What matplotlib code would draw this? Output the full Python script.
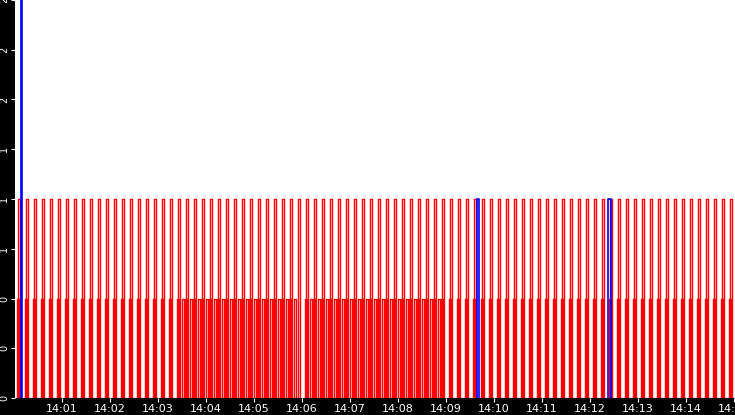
import matplotlib
matplotlib.use("Agg")
import matplotlib.pyplot as plt
import matplotlib.dates as mdates
from matplotlib.ticker import FuncFormatter, MultipleLocator
import datetime as dt

# pulse start times (seconds after 14:00:00) and levels
upper_starts = [5,15,25,35,45,55,65,75,85,95,105,115,125,135,145,155,165,175,185,195,
                205,215,225,235,245,255,265,275,285,295,305,315,325,335,345,355,365,375,385,395,
                405,415,425,435,445,455,465,475,485,495,505,515,525,535,545,555,565,575,585,595,
                605,615,625,635,645,655,665,675,685,695,705,715,725,735,745,755,765,775,785,795,
                805,815,825,835,845,855,865,875,885,895]
upper_level = 1.0
lower_starts = [4,14,24,34,44,54,64,74,84,94,104,114,124,134,144,154,164,174,184,194,
                204,210,214,220,224,230,234,240,244,250,254,260,264,270,274,280,284,290,294,
                300,304,310,314,320,324,330,334,340,344,350,
                364,370,374,380,384,390,394,400,404,410,414,420,424,430,434,440,444,450,454,460,464,470,474,480,484,490,494,500,504,510,514,520,524,530,534,
                544,554,564,574,584,594,604,614,624,634,644,654,664,674,684,694,704,714,724,734,744,754,764,774,784,794,
                804,814,824,834,844,854,864,874,884,894]
lower_level = 0.5
pulse_width = 2.5
blue_spikes = [(9, 2.0, 1.0), (579, 1.0, 2.5), (743, 1.0, 3.0)]

t0 = dt.datetime(2024, 1, 1, 14, 0, 0)
def T(s):
    return t0 + dt.timedelta(seconds=s)

fig = plt.figure(figsize=(7.35, 4.15), dpi=100, facecolor="black")
ax = fig.add_axes([15/735, 17/415, 720/735, 398/415])
ax.set_facecolor("white")

def pulse(s, h, w, color, lw=1.0):
    ax.plot([T(s), T(s), T(s + w), T(s + w)], [0, h, h, 0], color=color, lw=lw)

for s in upper_starts:
    pulse(s, upper_level, pulse_width, "red")
for s in lower_starts:
    pulse(s, lower_level, pulse_width, "red")
for s, h, w in blue_spikes:
    pulse(s, h, w, "blue", lw=1.2)

ax.set_xlim(T(1.25), T(901.25))
ax.set_ylim(0, 2)
ax.yaxis.set_major_locator(MultipleLocator(0.25))
ax.yaxis.set_major_formatter(FuncFormatter(lambda v, p: f"{v:.0f}"))
ax.xaxis.set_major_locator(mdates.MinuteLocator())
ax.xaxis.set_major_formatter(mdates.DateFormatter("%H:%M"))
ax.tick_params(axis="x", colors="white", labelsize=8, length=3, pad=1)
ax.tick_params(axis="y", colors="white", labelsize=7, length=3, pad=1)
for lab in ax.get_yticklabels():
    lab.set_rotation(90)
    lab.set_va("center")
for sp in ax.spines.values():
    sp.set_visible(False)
fig.savefig("out.png", dpi=100, facecolor="black")
